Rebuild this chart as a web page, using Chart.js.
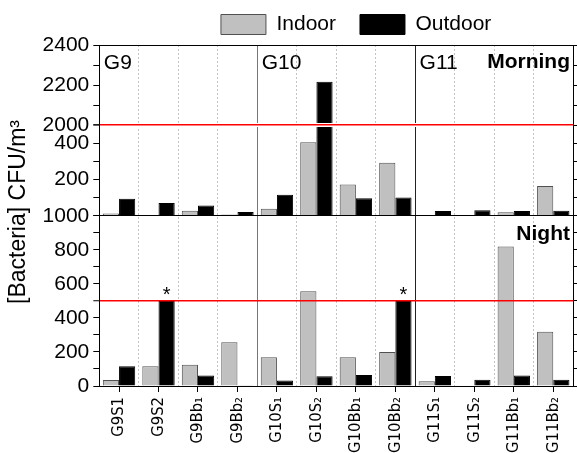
<!DOCTYPE html>
<html><head><meta charset="utf-8">
<script src="https://cdn.jsdelivr.net/npm/chart.js@4.4.1/dist/chart.umd.min.js"></script>
<style>html,body{margin:0;padding:0;background:#fff;}</style>
</head><body>
<canvas id="c" width="577" height="453"></canvas>
<script>
// ---------- data ----------
const categories = ['G9S1','G9S2','G9Bb\u2081','G9Bb\u2082','G10S\u2081','G10S\u2082','G10Bb\u2081','G10Bb\u2082','G11S\u2081','G11S\u2082','G11Bb\u2081','G11Bb\u2082'];
const morningIndoor  = [13, 3, 28, 7, 38, 405, 172, 293, 3, 0, 20, 164];
const morningOutdoor = [94, 71, 56, 21, 116, 2217, 97, 101, 26, 30, 26, 28];
const nightIndoor    = [35, 116, 125, 257, 169, 557, 169, 200, 28, 0, 820, 319];
const nightOutdoor   = [116, 500, 61, 4, 33, 57, 65, 500, 59, 37, 61, 37];
const nightOutdoorMarks = ['', '*', '', '', '', '', '', '*', '', '', '', ''];
const seriesNames = ['Indoor', 'Outdoor'];
const groupLabels = ['G9', 'G10', 'G11'];
const groupStarts = [0, 4, 8];
const periodLabels = ['Morning', 'Night'];
const threshold = 500;
const morningUpperRange = [2000, 2400];
const morningLowerRange = [0, 500];
const nightRange = [0, 1000];
const morningUpperTickLabels = [2000, 2200, 2400];
const morningLowerTickLabels = [200, 400];
const nightTickLabels = [0, 200, 400, 600, 800, 1000];
const yTitle = '[Bacteria] CFU/m\u00b3';

// ---------- styles ----------
const FONT = '"Liberation Sans", Arial, Helvetica, sans-serif';
const NARROW = '"Liberation Sans Narrow", "Arial Narrow", "DejaVu Sans Condensed", "Liberation Sans", Arial, sans-serif';
Chart.defaults.font.family = FONT;
Chart.defaults.color = '#000';
const indoorStyle = {backgroundColor: '#c0c0c0', borderColor: '#505050', borderWidth: 1};
const outdoorStyle = {backgroundColor: '#000000', borderColor: '#000000', borderWidth: 1};
const W = {top: 80, mid: 90.5, night: 170};
const CLEAR = 'rgba(0,0,0,0)';
const RED = '#ff0000';
const LEFT_AXIS_WIDTH = 59.3;
const RIGHT_AXIS_WIDTH = 4;
const X_LABEL_BAND = 71;

function tickCb(list) { return (v) => list.includes(v) ? String(v) : ''; }
function leftAxis(range, labels, weight, gridColor, gridWidth, z) {
  return {
    type: 'linear', position: 'left', stack: 'left', stackWeight: weight,
    min: range[0], max: range[1], stacked: false,
    border: {color: '#000', width: 1, z: 3},
    grid: {color: gridColor, lineWidth: gridWidth || 1, tickColor: '#000', tickWidth: 1, tickLength: 6, z: z},
    ticks: {stepSize: 100, autoSkip: false, padding: 4, color: '#000', font: {size: 21}, callback: tickCb(labels)},
    afterFit: (s) => { s.width = LEFT_AXIS_WIDTH; }
  };
}
function rightAxis(range, weight) {
  return {
    type: 'linear', position: 'right', stack: 'right', stackWeight: weight,
    min: range[0], max: range[1],
    border: {color: '#000', width: 1, z: 3},
    grid: {drawOnChartArea: false, color: '#000', tickLength: 4},
    ticks: {display: false, stepSize: 100},
    afterFit: (s) => { s.width = RIGHT_AXIS_WIDTH; }
  };
}
const valueOf = (c) => c.tick ? c.tick.value : null;

const groupBoundaryColors = {4: '#777777', 8: '#222222'};
function xGridColor(c) {
  const i = c.index;
  if (i === undefined || i === 0) return '#000';
  if (groupStarts.includes(i)) return groupBoundaryColors[i] || '#444';
  return '#c4c4c4';
}
function xGridDash(c) {
  const i = c.index;
  if (i === undefined || i === 0 || groupStarts.includes(i)) return [];
  return [2, 2];
}

const clipToScale = {
  id: 'clipToScale',
  beforeDatasetDraw(chart, args) {
    const ys = args.meta.yScale, ca = chart.chartArea, ctx = chart.ctx;
    ctx.save();
    ctx.beginPath();
    ctx.rect(ca.left, ys.top, ca.right - ca.left, ys.bottom - ys.top);
    ctx.clip();
  },
  afterDatasetDraw(chart) { chart.ctx.restore(); }
};
const legendShift = {
  id: 'legendShift',
  afterLayout(chart) { const l = chart.legend; if (l) { l.left += 20; l.right += 20; } }
};
const annotate = {
  id: 'annotate',
  afterDraw(chart) {
    const {ctx, chartArea: ca, scales} = chart;
    const x = scales.x, yT = scales.yT, yN = scales.yN;
    ctx.save();
    ctx.fillStyle = '#000';
    ctx.textBaseline = 'alphabetic';
    ctx.textAlign = 'left';
    ctx.font = '21px ' + FONT;
    groupLabels.forEach((g, k) => {
      const s = groupStarts[k];
      const left = s === 0 ? ca.left : (x.getPixelForValue(s - 1) + x.getPixelForValue(s)) / 2;
      ctx.fillText(g, left + 4.5, yT.top + 24);
    });
    ctx.font = 'bold 21px ' + FONT;
    ctx.textAlign = 'right';
    ctx.fillText(periodLabels[0], ca.right - 3, yT.top + 23);
    ctx.fillText(periodLabels[1], ca.right - 3, yN.top + 24);
    ctx.textAlign = 'center';
    ctx.font = '20px ' + FONT;
    const meta = chart.getDatasetMeta(5);
    nightOutdoorMarks.forEach((m, i) => {
      if (m) { const el = meta.data[i]; ctx.fillText(m, el.x, el.y); }
    });
    ctx.translate(19, 212);
    ctx.rotate(-Math.PI / 2);
    ctx.textBaseline = 'middle';
    ctx.font = '23px ' + FONT;
    ctx.fillText(yTitle, 0, 0);
    ctx.restore();
  }
};

const common = {categoryPercentage: 0.82, barPercentage: 1.0, borderSkipped: 'start'};
new Chart(document.getElementById('c'), {
  type: 'bar',
  data: {
    labels: categories,
    datasets: [
      Object.assign({label: seriesNames[0], data: morningIndoor, yAxisID: 'yT', stack: 'in'}, indoorStyle, common),
      Object.assign({label: seriesNames[1], data: morningOutdoor, yAxisID: 'yT', stack: 'out'}, outdoorStyle, common),
      Object.assign({label: seriesNames[0], data: morningIndoor, yAxisID: 'yM', stack: 'in'}, indoorStyle, common),
      Object.assign({label: seriesNames[1], data: morningOutdoor, yAxisID: 'yM', stack: 'out'}, outdoorStyle, common),
      Object.assign({label: seriesNames[0], data: nightIndoor, yAxisID: 'yN', stack: 'in'}, indoorStyle, common),
      Object.assign({label: seriesNames[1], data: nightOutdoor, yAxisID: 'yN', stack: 'out'}, outdoorStyle, common)
    ]
  },
  options: {
    responsive: false, animation: false, devicePixelRatio: 1,
    layout: {padding: {left: 40, right: 0, top: -10, bottom: -4}},
    plugins: {
      legend: {
        position: 'top', fullSize: false,
        labels: {
          boxWidth: 45, boxHeight: 20, padding: 24, color: '#000', font: {size: 21},
          filter: (item) => item.datasetIndex < 2
        }
      },
      tooltip: {enabled: false}
    },
    scales: {
      x: {
        type: 'category', position: 'bottom', offset: true,
        grid: {offset: true, drawTicks: false, color: xGridColor, lineWidth: 1},
        border: {color: '#000', width: 1, dash: xGridDash},
        ticks: {display: false},
        afterFit: (s) => { s.height = 0; s.paddingLeft = 0; s.paddingRight = 0; }
      },
      x2: {
        type: 'category', labels: categories, position: 'bottom', offset: true,
        grid: {offset: false, drawOnChartArea: false, drawTicks: true, tickLength: 6, color: '#000'},
        border: {display: false},
        ticks: {autoSkip: false, minRotation: 90, maxRotation: 90, padding: 5, color: '#000', font: {family: NARROW, size: 16.5}},
        afterFit: (s) => { s.height = X_LABEL_BAND; s.paddingLeft = 0; s.paddingRight = 0; }
      },
      yN: leftAxis(nightRange, nightTickLabels, W.night,
        (c) => valueOf(c) === threshold ? RED : CLEAR, (c) => valueOf(c) === threshold ? 1.5 : 1, 1),
      yM: leftAxis(morningLowerRange, morningLowerTickLabels, W.mid,
        (c) => valueOf(c) === threshold ? RED : (valueOf(c) === 0 ? '#000' : CLEAR), (c) => valueOf(c) === threshold ? 1.5 : 1, 2),
      yT: leftAxis(morningUpperRange, morningUpperTickLabels, W.top,
        (c) => valueOf(c) === morningUpperRange[1] ? '#000' : (valueOf(c) === morningUpperRange[0] ? '#fff' : CLEAR),
        (c) => valueOf(c) === morningUpperRange[0] ? 4 : 1, 1),
      rT: rightAxis(morningUpperRange, W.top),
      rM: rightAxis(morningLowerRange, W.mid),
      rN: rightAxis(nightRange, W.night)
    }
  },
  plugins: [clipToScale, legendShift, annotate]
});
</script>
</body></html>
